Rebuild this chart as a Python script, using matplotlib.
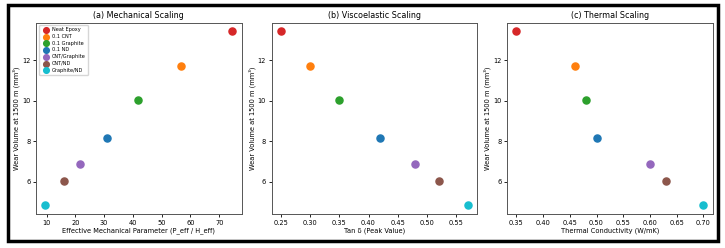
import matplotlib
matplotlib.use("Agg")
import matplotlib.pyplot as plt
from matplotlib.patches import Rectangle

labels = ["Neat Epoxy", "0.1 CNT", "0.1 Graphite", "0.1 ND", "CNT/Graphite", "CNT/ND", "Graphite/ND"]
colors = ["#d62728", "#ff7f0e", "#2ca02c", "#1f77b4", "#9467bd", "#8c564b", "#17becf"]
wear = [13.42, 11.70, 10.05, 8.15, 6.87, 6.03, 4.85]
mech = [74.5, 56.7, 41.6, 31.1, 21.5, 16.2, 9.6]
tand = [0.25, 0.30, 0.35, 0.42, 0.48, 0.52, 0.57]
therm = [0.35, 0.46, 0.48, 0.50, 0.60, 0.63, 0.70]

titles = ["(a) Mechanical Scaling", "(b) Viscoelastic Scaling", "(c) Thermal Scaling"]
xlabels = ["Effective Mechanical Parameter (P_eff / H_eff)", "Tan δ (Peak Value)", "Thermal Conductivity (W/mK)"]
ylabel = "Wear Volume at 1500 m (mm³)"

fig, axes = plt.subplots(1, 3, figsize=(7.25, 2.48), dpi=100)
for i, (ax, xs) in enumerate(zip(axes, [mech, tand, therm])):
    for x, y, c, l in zip(xs, wear, colors, labels):
        ax.scatter(x, y, color=c, s=26, label=l, zorder=3)
    ax.set_title(titles[i], fontsize=5.8, pad=3)
    ax.set_xlabel(xlabels[i], fontsize=4.8, labelpad=1.5)
    ax.set_ylabel(ylabel, fontsize=4.8, labelpad=1.5)
    ax.tick_params(labelsize=4.8, length=2.5, width=0.6, pad=1.5)
    for s in ax.spines.values():
        s.set_linewidth(0.7)
        s.set_color("#555555")
    ax.set_yticks([6, 8, 10, 12])
    if i == 0:
        ax.legend(loc="upper left", fontsize=3.6, markerscale=0.8, handletextpad=0.3,
                  borderpad=0.4, labelspacing=0.35, frameon=True)

fig.subplots_adjust(left=0.0497, right=0.983, top=0.909, bottom=0.137, wspace=0.146)
fig.patches.append(Rectangle((0.011, 0.03), 0.98, 0.95, transform=fig.transFigure,
                             fill=False, edgecolor="black", linewidth=2.5))
fig.savefig("out.png", dpi=100)
